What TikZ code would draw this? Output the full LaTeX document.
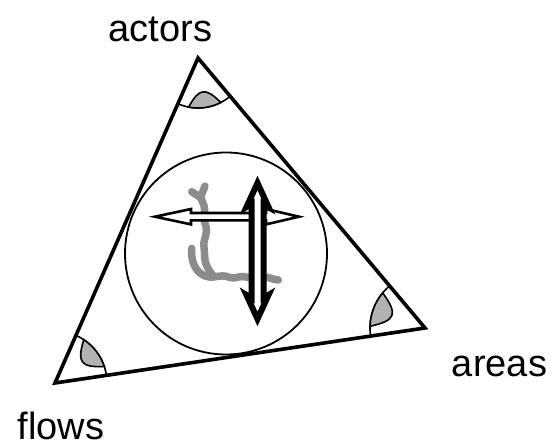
\documentclass[tikz,border=0pt]{standalone}
\usepackage{fontspec}
\setmainfont{Liberation Sans}
\usetikzlibrary{calc}

\begin{document}
\begin{tikzpicture}[
    x=1pt, y=1pt,
    cornertext/.style={anchor=base, inner sep=0pt, font=\fontsize{38}{40}\selectfont},
    side/.style={draw, line width=3.6pt, line join=miter},
    ring/.style={draw, line width=1.8pt},
    anglearc/.style={draw, line width=1.6pt},
    lens/.style={draw, line width=1.6pt, fill=black!30},
    trail/.style={draw=black!45, line width=7.5pt, line cap=round, line join=round},
    thinarrow/.style={draw, fill=white, line width=2.6pt, line join=miter},
    fatarrow/.style={draw, fill=white, line width=6pt, line join=miter}
]
\useasboundingbox (0,0) rectangle (557,447);

% =========================================================
% Triangle and inner circle
% =========================================================
\coordinate (A) at (198,389);
\coordinate (B) at (55,64);
\coordinate (C) at (425,119);

\draw[side] (A) -- (B) -- (C) -- cycle;
\draw[ring] (226,193.5) circle[radius=101];

% Angle marks (vertex / side angles / radius)
\foreach \v/\a/\b/\r in {A/-113.75/-49.94/50, B/8.45/66.25/52, C/130.06/188.45/55} {
    \pgfmathsetmacro{\m}{(\a+\b)/2}
    \draw[anglearc] ($(\v)+(\a:\r)$) arc[start angle=\a, end angle=\b, radius=\r];
    \filldraw[lens] ($(\v)+(\m-19:\r)$) arc[start angle=\m-19, end angle=\m+19, radius=\r]
        .. controls ($(\v)+(\m+6:30)$) and ($(\v)+(\m-6:30)$) .. ($(\v)+(\m-19:\r)$) -- cycle;
}

% =========================================================
% Gray trail
% =========================================================
\draw[trail] (191.7,255.3) -- (200.5,249.5) -- (205,261);
\draw[trail] (200.5,249.5) .. controls (203,244) and (206,239) .. (204,233)
    .. controls (202,227) and (207,222) .. (206.5,216)
    .. controls (206,210) and (203,206) .. (204,200)
    .. controls (205,194) and (204,188) .. (206,183)
    .. controls (208,178) and (210,175) .. (213.3,171);
\draw[trail] (191.7,198.7) .. controls (191,190) and (193,182) .. (197,177)
    .. controls (201,172) and (207,169) .. (214,170)
    .. controls (220,171) and (224,172) .. (230,169.5)
    .. controls (235,167.5) and (240,172) .. (246,170)
    .. controls (253,167) and (261,171) .. (268,169.5)
    .. controls (272,168.5) and (275,167) .. (278.3,167);

% =========================================================
% Crossing arrows
% =========================================================
\draw[thinarrow] (155,230.3) -- (191,238) -- (191,234) -- (266,234) -- (266,238)
    -- (299,230.3) -- (266,222.6) -- (266,226.6) -- (191,226.6) -- (191,222.6) -- cycle;
\draw[fatarrow] (257.5,264) -- (268.5,240) -- (263.5,243) -- (263.5,149) -- (268.5,152)
    -- (257.5,128) -- (246.5,152) -- (251.5,149) -- (251.5,243) -- (246.5,240) -- cycle;

% =========================================================
% Corner labels
% =========================================================
\node[cornertext] (actors) at (160.5,405) {actors};
\node[cornertext] (areas)  at (499.5,70)  {areas};
\node[cornertext] (flows)  at (61,7)      {flows};

\end{tikzpicture}
\end{document}
